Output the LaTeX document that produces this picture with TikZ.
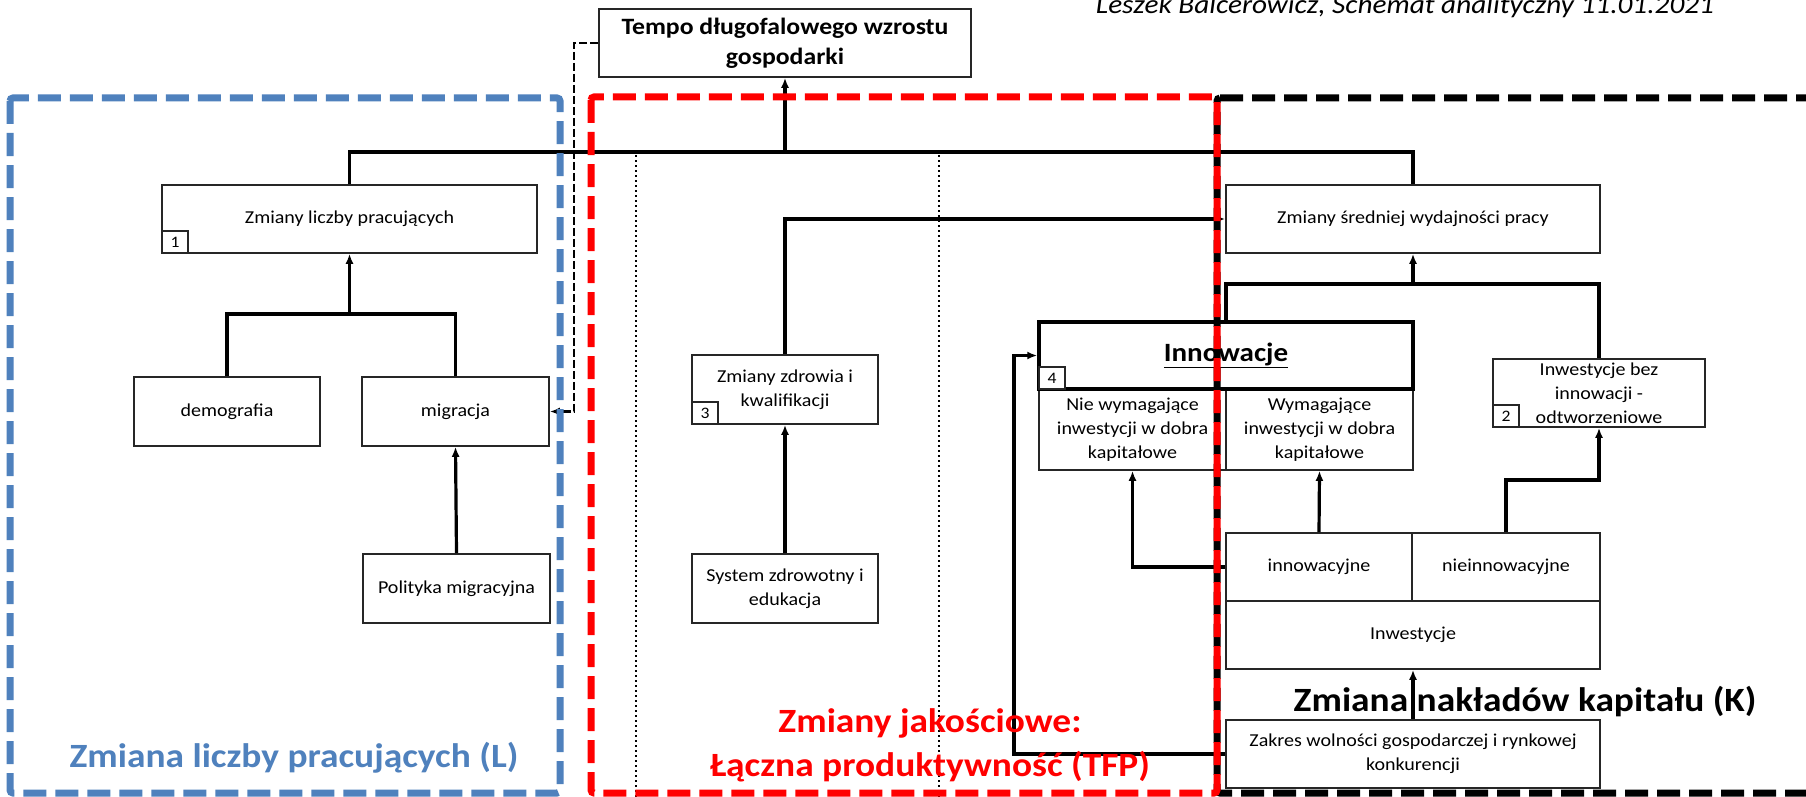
\documentclass[tikz,border=0pt]{standalone}
\usepackage{fontspec}
\setmainfont{Carlito}[FakeStretch=1.1]
\usetikzlibrary{arrows.meta}
\definecolor{lblue}{RGB}{79,129,189}
\definecolor{lred}{RGB}{255,0,0}
\begin{document}
\begin{tikzpicture}[x=1pt,y=-1pt,
  box/.style={draw=black!85, line width=1.6pt, fill=white, align=center, inner sep=1pt, font=\fontsize{18.2}{24}\selectfont},
  badge/.style={draw=black!85, line width=1.6pt, fill=white, minimum width=26pt, minimum height=22pt, inner sep=0pt, anchor=south west, font=\fontsize{16}{16}\selectfont},
  conn/.style={line width=3.2pt, draw=black},
  arr/.style={conn, -{Latex[length=10pt,width=8pt]}},
  dconn/.style={line width=2.6pt, dash pattern=on 8pt off 3pt, -{Latex[length=10pt,width=8pt]}},
  region/.style={line width=7pt, dash pattern=on 23pt off 9pt, rounded corners=3pt},
  dotline/.style={line width=1.8pt, dash pattern=on 2pt off 3pt},
  biglabel/.style={font=\fontsize{34}{44}\selectfont\bfseries, align=center, inner sep=0pt}
]
\useasboundingbox[fill=white] (0,0) rectangle (1806,797);

% dotted separators
\draw[dotline] (636,155) -- (636,797);
\draw[dotline] (939,155) -- (939,797);

% nodes
\node[box, minimum width=372pt, minimum height=68pt, font=\fontsize{23.4}{30}\selectfont\bfseries] (title) at (785,43) {Tempo długofalowego wzrostu\\gospodarki};
\node[box, minimum width=375pt, minimum height=68pt] (zlp) at (349.5,219) {Zmiany liczby pracujących};
\node[box, minimum width=186pt, minimum height=69pt] (demo) at (227,411.5) {demografia};
\node[box, minimum width=187pt, minimum height=69pt] (migr) at (455.5,411.5) {migracja};
\node[box, minimum width=187pt, minimum height=69pt] (polit) at (456.5,588.5) {Polityka migracyjna};
\node[box, minimum width=186pt, minimum height=69pt] (zdrow) at (785,389.5) {Zmiany zdrowia i\\kwalifikacji};
\node[box, minimum width=186pt, minimum height=69pt] (syst) at (785,588.5) {System zdrowotny i\\edukacja};
\node[box, minimum width=374pt, minimum height=68pt] (sred) at (1413,219) {Zmiany średniej wydajności pracy};
\node[box, minimum width=187pt, minimum height=81pt] (niew) at (1132.5,429.5) {Nie wymagające\\inwestycji w dobra\\kapitałowe};
\node[box, minimum width=187pt, minimum height=81pt] (wym) at (1319.5,429.5) {Wymagające\\inwestycji w dobra\\kapitałowe};
\node[box, line width=3.5pt, draw=black, minimum width=374pt, minimum height=67pt, font=\fontsize{26.4}{30}\selectfont\bfseries] (innow) at (1226,355.5) {\underline{Innowacje}};
\node[box, minimum width=212pt, minimum height=68pt] (inwbez) at (1599,393) {Inwestycje bez\\innowacji -\\odtworzeniowe};
\node[box, minimum width=186pt, minimum height=68pt] (innc) at (1319,567) {innowacyjne};
\node[box, minimum width=188pt, minimum height=68pt] (nieinn) at (1506,567) {nieinnowacyjne};
\node[box, minimum width=374pt, minimum height=68pt] (inwest) at (1413,635) {Inwestycje};
\node[box, minimum width=374pt, minimum height=68pt] (zakres) at (1413,754) {Zakres wolności gospodarczej i rynkowej\\konkurencji};

% badges
\node[badge] (b1) at (zlp.south west) {1};
\node[badge] (b3) at (zdrow.south west) {3};
\node[badge] (b4) at ([xshift=1pt,yshift=1pt]innow.south west) {4};
\node[badge] (b2) at (inwbez.south west) {2};

% junction coordinates
\coordinate (bus) at (785,152);
\coordinate (j1) at (350,314);
\coordinate (j2) at (1413,284);
\coordinate (dc) at (574,43);
\coordinate (zl) at (1014,754);
\coordinate (nj) at (1506,480);

% connectors
\draw[conn] (zlp.north) -- (zlp.north |- bus) -- (sred.north |- bus) -- (sred.north);
\draw[arr] (title.south |- bus) -- (title.south);
\draw[conn] (demo.north) -- (demo.north |- j1) -- (migr.north |- j1) -- (migr.north);
\draw[arr] (zlp.south |- j1) -- (zlp.south);
\draw[arr] (polit.north) -- (migr.south);
\draw[arr] (syst.north) -- (zdrow.south);
\draw[arr] (zdrow.north) |- (sred.west);
\draw[conn] (innow.north) -- (innow.north |- j2) -- (inwbez.north |- j2) -- (inwbez.north);
\draw[arr] (sred.south |- j2) -- (sred.south);
\draw[dconn] (title.west) -- (dc) |- (migr.east);
\draw[arr] (zakres.west) -- (zl) |- (innow.west);
\draw[arr] (zakres.north) -- (inwest.south);
\draw[arr] (innc.west) -| (niew.south);
\draw[arr] (innc.north) -- (wym.south);
\draw[arr] (nieinn.north) -- (nj) -| (inwbez.south);

% regions
\draw[region, draw=black] (1217,98) -- (1840,98) -- (1840,793) -- (1217,793) -- cycle;
\draw[region, draw=lblue] (10,98) rectangle (560,793);
\draw[region, draw=lred] (591,97) rectangle (1217,793);

% labels
\node[biglabel, text=lblue] (lbl) at (294,758) {Zmiana liczby pracujących (L)};
\node[biglabel, text=lred] (lbr) at (930,745) {Zmiany jakościowe:\\Łączna produktywność (TFP)};
\node[biglabel, text=black] (lbk) at (1525,702) {Zmiana nakładów kapitału (K)};
\node[anchor=base, inner sep=0pt, font=\fontsize{26.6}{30}\selectfont\itshape] (author) at (1405,14) {Leszek Balcerowicz, Schemat analityczny 11.01.2021};
\end{tikzpicture}
\end{document}
